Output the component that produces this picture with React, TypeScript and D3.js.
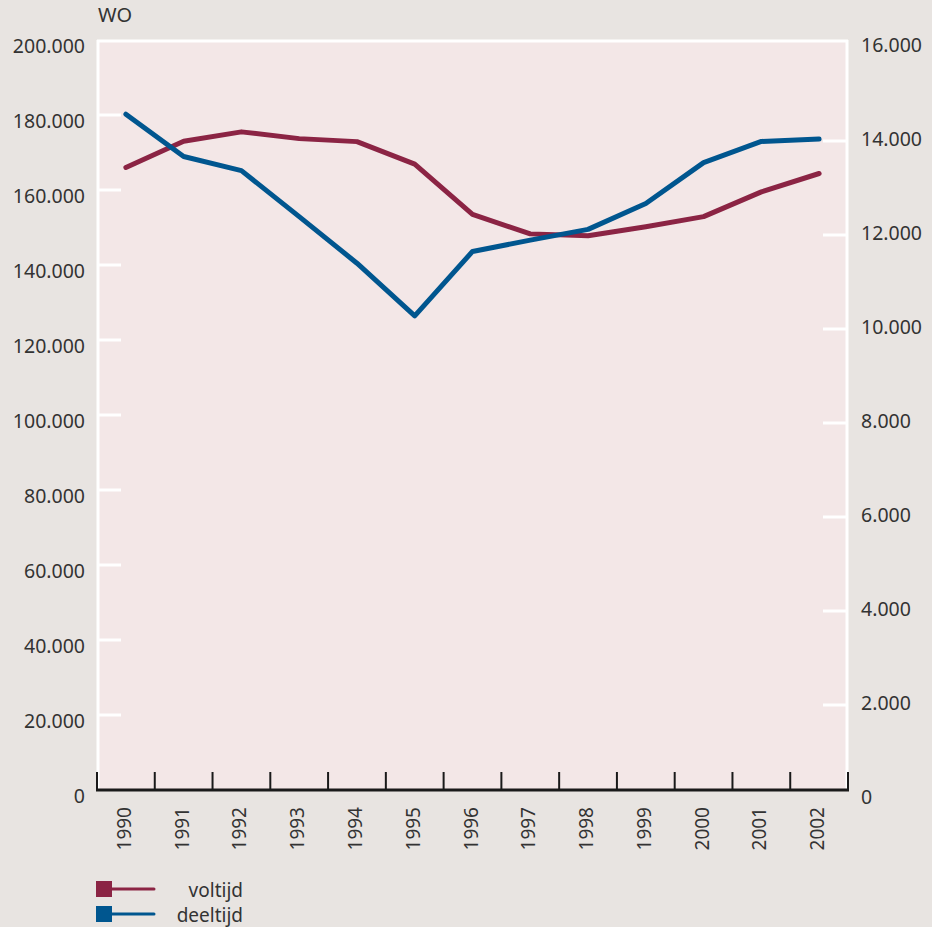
import React from "react";
import * as d3 from "d3";

const years = ["1990","1991","1992","1993","1994","1995","1996","1997","1998","1999","2000","2001","2002"];
const voltijd = [166000,173000,175500,173700,172900,166900,153500,148300,147800,150200,152900,159500,164400];
const deeltijd = [14570,13670,13370,12390,11400,10280,11650,11890,12120,12670,13540,13990,14040];
const leftTicks = [0,20000,40000,60000,80000,100000,120000,140000,160000,180000,200000];
const rightTicks = [0,2000,4000,6000,8000,10000,12000,14000,16000];
const seriesNames = ["voltijd","deeltijd"];
const title = "WO";

const W = 932, H = 927;
const L = 97, R = 848, T = 40, B = 790;
const MAROON = "#8b2444";
const BLUE = "#00568f";
const FONT = "'Noto Sans', 'Open Sans', sans-serif";
const TXT = "#333333";

const fmt = (v: number) => (v === 0 ? "0" : d3.format(",")(v).replace(/,/g, "."));

export default function App() {
  const x = d3.scaleBand<string>().domain(years).range([L, R]);
  const yL = d3.scaleLinear().domain([0, 200000]).range([B, T]);
  const yR = d3.scaleLinear().domain([0, 16000]).range([799, 47]);
  const cx = (y: string) => (x(y) as number) + x.bandwidth() / 2;
  const lineL = d3.line<number>().x((_, i) => cx(years[i])).y((d) => yL(d));
  const lineR = d3.line<number>().x((_, i) => cx(years[i])).y((d) => yR(d));

  return (
    <svg width={W} height={H} style={{ position: "absolute", left: 0, top: 0, display: "block" }} fontFamily={FONT}>
      <rect x={0} y={0} width={W} height={H} fill="#e8e4e1" />
      <rect x={L} y={T} width={R - L} height={B - T} fill="#f3e7e7" />
      {/* frame white lines */}
      <line x1={L + 1} x2={L + 1} y1={T} y2={B} stroke="#ffffff" strokeWidth={3} />
      <line x1={L} x2={R} y1={T + 1} y2={T + 1} stroke="#ffffff" strokeWidth={3} />
      <line x1={R - 1} x2={R - 1} y1={T} y2={B} stroke="#ffffff" strokeWidth={3} />
      {/* left ticks */}
      {leftTicks.filter((t) => t > 0 && t < 200000).map((t) => (
        <line key={"lt" + t} x1={L} x2={121} y1={yL(t)} y2={yL(t)} stroke="#ffffff" strokeWidth={3} />
      ))}
      {leftTicks.map((t) => (
        <text key={"ll" + t} x={85} y={yL(t) + 13} textAnchor="end" fontSize={19.5} fill={TXT}>{fmt(t)}</text>
      ))}
      {/* right ticks */}
      {rightTicks.filter((t) => t > 0 && t < 16000).map((t) => (
        <line key={"rt" + t} x1={823} x2={R} y1={yR(t)} y2={yR(t)} stroke="#ffffff" strokeWidth={3} />
      ))}
      {rightTicks.map((t) => (
        <text key={"rl" + t} x={861} y={yR(t) + 5} textAnchor="start" fontSize={19.5} fill={TXT}>{fmt(t)}</text>
      ))}
      {/* x axis */}
      <line x1={L - 1} x2={R + 1} y1={B} y2={B} stroke="#1a1a1a" strokeWidth={3} />
      {years.map((y) => (
        <line key={"xt" + y} x1={x(y) as number} x2={x(y) as number} y1={772} y2={B} stroke="#1a1a1a" strokeWidth={2} />
      ))}
      <line x1={R} x2={R} y1={772} y2={B} stroke="#1a1a1a" strokeWidth={2} />
      {years.map((y) => (
        <text key={"xl" + y} transform={`translate(${cx(y) + 5},807) rotate(-90)`} textAnchor="end" fontSize={19} fill={TXT}>{y}</text>
      ))}
      {/* lines */}
      <path d={lineL(voltijd) as string} fill="none" stroke={MAROON} strokeWidth={5} strokeLinecap="round" strokeLinejoin="round" />
      <path d={lineR(deeltijd) as string} fill="none" stroke={BLUE} strokeWidth={5} strokeLinecap="round" strokeLinejoin="round" />
      {/* title */}
      <text x={98} y={22} fontSize={20} fill={TXT}>{title}</text>
      {/* legend */}
      {seriesNames.map((n, i) => {
        const c = i === 0 ? MAROON : BLUE;
        const yy = 881 + i * 25;
        return (
          <g key={n}>
            <rect x={96} y={yy} width={16} height={16} fill={c} />
            <line x1={112} x2={154} y1={yy + 8} y2={yy + 8} stroke={c} strokeWidth={3} strokeLinecap="round" />
            <text x={243} y={yy + 16} textAnchor="end" fontSize={19} fill={TXT}>{n}</text>
          </g>
        );
      })}
    </svg>
  );
}
